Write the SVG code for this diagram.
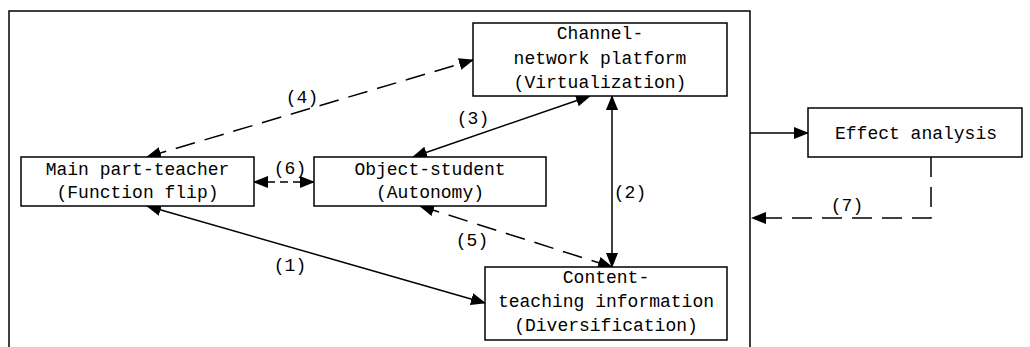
<svg xmlns="http://www.w3.org/2000/svg" width="1030" height="347" viewBox="0 0 1030 347">
<style>
.box{fill:#fff;stroke:#000;stroke-width:1.5}
.t{font-family:"Liberation Mono",monospace;font-size:18px;fill:#000;text-anchor:middle}
.c{fill:none;stroke:#000;stroke-width:1.5}
.d{stroke-dasharray:20,10}
.ds{stroke-dasharray:8,5}
</style>
<defs>
<marker id="ah" markerUnits="userSpaceOnUse" markerWidth="16" markerHeight="12" refX="14" refY="6" orient="auto-start-reverse" viewBox="0 0 16 12">
<path d="M0,0 L15,6 L0,12 Z" fill="#000"/>
</marker>
</defs>
<rect width="1030" height="347" fill="#fff"/>
<g id="frame"><path class="c" d="M9,347 V11 H750 V347"/></g>
<g id="connectors">
<line class="c d" x1="147" y1="157" x2="473" y2="60" marker-start="url(#ah)" marker-end="url(#ah)"/>
<line class="c" x1="413" y1="157" x2="590" y2="96" marker-start="url(#ah)" marker-end="url(#ah)"/>
<line class="c" x1="612" y1="96" x2="612" y2="267" marker-start="url(#ah)" marker-end="url(#ah)"/>
<line class="c ds" x1="254" y1="182" x2="314" y2="182" marker-start="url(#ah)" marker-end="url(#ah)"/>
<line class="c d" x1="420" y1="206" x2="612" y2="267" marker-start="url(#ah)" marker-end="url(#ah)"/>
<line class="c" x1="147" y1="206" x2="485" y2="303" marker-start="url(#ah)" marker-end="url(#ah)"/>
<line class="c" x1="750" y1="133" x2="808" y2="133" marker-end="url(#ah)"/>
<path class="c d" d="M931,157 V218 H752" marker-end="url(#ah)"/>
<text class="t" x="302" y="103">(4)</text>
<text class="t" x="473" y="124">(3)</text>
<text class="t" x="630" y="198">(2)</text>
<text class="t" x="290" y="174">(6)</text>
<text class="t" x="472" y="246">(5)</text>
<text class="t" x="290" y="271">(1)</text>
<text class="t" x="847" y="211">(7)</text>
</g>
<g id="channel">
<rect class="box" x="473" y="23" width="254" height="73"/>
<text class="t" x="600" y="39">Channel-</text>
<text class="t" x="600" y="64">network platform</text>
<text class="t" x="600" y="88">(Virtualization)</text>
</g>
<g id="teacher">
<rect class="box" x="21" y="157" width="233" height="49"/>
<text class="t" x="137.5" y="175">Main part-teacher</text>
<text class="t" x="137.5" y="198">(Function flip)</text>
</g>
<g id="student">
<rect class="box" x="314" y="157" width="232" height="49"/>
<text class="t" x="430" y="175">Object-student</text>
<text class="t" x="430" y="198">(Autonomy)</text>
</g>
<g id="content">
<rect class="box" x="485" y="267" width="242" height="73"/>
<text class="t" x="606" y="283">Content-</text>
<text class="t" x="606" y="307">teaching information</text>
<text class="t" x="606" y="331">(Diversification)</text>
</g>
<g id="effect">
<rect class="box" x="808" y="108" width="214" height="49"/>
<text class="t" x="916" y="139">Effect analysis</text>
</g>
</svg>
